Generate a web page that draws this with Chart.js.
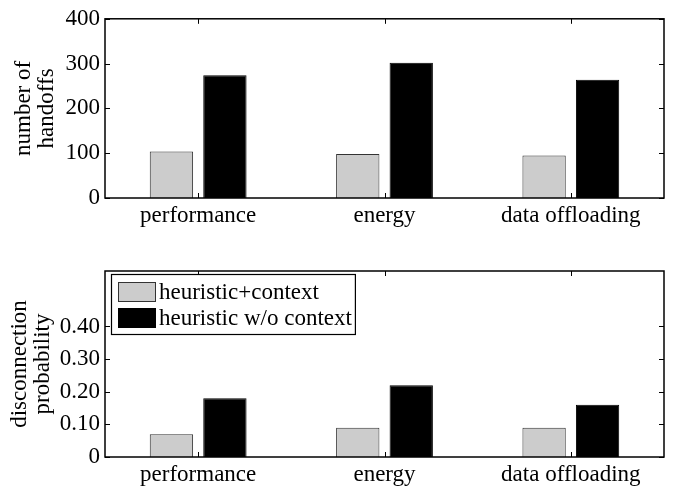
<!DOCTYPE html>
<html>
<head>
<meta charset="utf-8">
<script src="https://cdn.jsdelivr.net/npm/chart.js@4.4.1/dist/chart.umd.min.js"></script>
<style>
  html, body { margin: 0; padding: 0; background: #fff; overflow: hidden; }
  #wrap { position: relative; width: 686px; height: 489px; }
  canvas { position: absolute; left: 0; }
  #top { top: 0; }
  #bottom { top: 240px; }
</style>
</head>
<body>
<div id="wrap">
  <canvas id="top" width="686" height="240"></canvas>
  <canvas id="bottom" width="686" height="249"></canvas>
</div>
<script>
const categories = ['performance', 'energy', 'data offloading'];
const seriesLabels = ['heuristic+context', 'heuristic w/o context'];
const seriesColors = ['#cccccc', '#000000'];

const handoffsContext = [104, 98, 95];
const handoffsNoContext = [274, 302, 264];
const handoffTicks = [0, 100, 200, 300, 400];

const disconnContext = [0.07, 0.09, 0.09];
const disconnNoContext = [0.18, 0.22, 0.16];
const disconnTicks = [0, 0.1, 0.2, 0.3, 0.4];

const FONT = "'Liberation Serif', 'Times New Roman', serif";
const FSIZE = 23;

// matlab style box with inward ticks
const framePlugin = {
    id: 'frame',
    afterDatasetsDraw(chart) {
        const {ctx, chartArea: a, scales} = chart;
        ctx.save();
        ctx.strokeStyle = '#000';
        ctx.lineWidth = 1;
        const tl = 5;
        ctx.beginPath();
        scales.y.ticks.forEach((t, i) => {
            const y = Math.round(scales.y.getPixelForTick(i)) + 0.5;
            ctx.moveTo(a.left, y); ctx.lineTo(a.left + tl, y);
            ctx.moveTo(a.right, y); ctx.lineTo(a.right - tl, y);
        });
        scales.x.ticks.forEach((t, i) => {
            const x = Math.round(scales.x.getPixelForTick(i)) + 0.5;
            ctx.moveTo(x, a.bottom); ctx.lineTo(x, a.bottom - tl);
            ctx.moveTo(x, a.top); ctx.lineTo(x, a.top + tl);
        });
        ctx.stroke();
        ctx.lineWidth = 1.5;
        ctx.strokeRect(a.left, a.top, a.right - a.left, a.bottom - a.top);
        ctx.restore();
    }
};

// boxed legend inside the plot area, upper left
const boxLegendPlugin = {
    id: 'boxLegend',
    afterDraw(chart, args, opts) {
        if (!opts.show) return;
        const {ctx, chartArea: a} = chart;
        const ds = chart.data.datasets;
        ctx.save();
        ctx.font = FSIZE + 'px ' + FONT;
        const tw = Math.max(...ds.map(d => ctx.measureText(d.label).width));
        const bx = a.left + 6, by = a.top + 3;
        const sw = 38, sh = 20, pitch = 26;
        const bw = 7 + sw + 3 + tw + 3, bh = 8 + pitch * (ds.length - 1) + sh + 6;
        ctx.fillStyle = '#fff';
        ctx.fillRect(bx, by, bw, bh);
        ctx.lineWidth = 1.2;
        ctx.strokeStyle = '#000';
        ctx.strokeRect(bx + 0.5, by + 0.5, bw, bh);
        ds.forEach((d, i) => {
            const sy = by + 8 + i * pitch;
            ctx.fillStyle = d.backgroundColor;
            ctx.fillRect(bx + 7, sy, sw, sh);
            ctx.lineWidth = 1;
            ctx.strokeStyle = d.borderColor;
            ctx.strokeRect(bx + 7.5, sy + 0.5, sw - 1, sh - 1);
            ctx.fillStyle = '#000';
            ctx.textBaseline = 'middle';
            ctx.fillText(d.label, bx + 7 + sw + 3, sy + sh / 2 + 1);
        });
        ctx.restore();
    }
};

function makeChart(id, values, ticks, yMax, title, titlePad, topPad, xHeight, fmt, showLegend) {
    return new Chart(document.getElementById(id), {
        type: 'bar',
        data: {
            labels: categories,
            datasets: values.map((v, i) => ({
                label: seriesLabels[i],
                data: v,
                backgroundColor: seriesColors[i],
                borderColor: i === 0 ? '#333333' : '#000000',
                borderWidth: 1,
                categoryPercentage: 0.574,
                barPercentage: 0.81,
            })),
        },
        options: {
            responsive: false,
            animation: false,
            layout: {padding: {left: 0, right: 22, top: topPad, bottom: 0}},
            plugins: {
                legend: {display: false},
                tooltip: {enabled: false},
                boxLegend: {show: showLegend},
            },
            scales: {
                x: {
                    grid: {display: false, drawTicks: false},
                    border: {display: false},
                    ticks: {color: '#000', padding: 4, font: {family: FONT, size: FSIZE}},
                    afterFit: (s) => { s.height = xHeight; },
                },
                y: {
                    min: 0,
                    max: yMax,
                    grid: {display: false, drawTicks: false},
                    border: {display: false},
                    afterBuildTicks: (s) => { s.ticks = ticks.map(v => ({value: v})); },
                    ticks: {
                        color: '#000',
                        padding: 5,
                        font: {family: FONT, size: FSIZE},
                        callback: fmt,
                    },
                    title: {
                        display: true,
                        text: title,
                        color: '#000',
                        font: {family: FONT, size: FSIZE, lineHeight: 23 / FSIZE},
                        padding: {top: titlePad, bottom: 0},
                    },
                    afterFit: (s) => { s.width = 105; },
                },
            },
        },
        plugins: [framePlugin, boxLegendPlugin],
    });
}

makeChart('top', [handoffsContext, handoffsNoContext], handoffTicks, 400,
    ['number of', 'handoffs'], 12, 12, 42, (v) => String(v), false);
makeChart('bottom', [disconnContext, disconnNoContext], disconnTicks, 0.57,
    ['disconnection', 'probability'], 8, 31, 32, (v) => (v === 0 ? '0' : v.toFixed(2)), true);
</script>
</body>
</html>
